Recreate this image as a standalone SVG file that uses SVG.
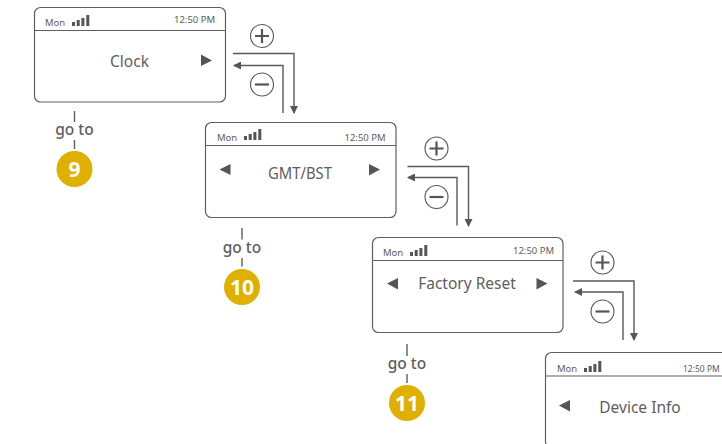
<svg xmlns="http://www.w3.org/2000/svg" width="722" height="444" viewBox="0 0 722 444">
<style>
text{font-family:"Noto Sans","Open Sans","Liberation Sans",sans-serif;fill:#5e5e5e}
.scr{fill:#fff;stroke:#5f5f5f;stroke-width:1.2}
.div{stroke:#5f5f5f;stroke-width:1.2;fill:none}
.sm{font-size:9.5px}
.t{font-size:15.5px;text-anchor:middle}
.goto{font-size:15.500px;font-weight:500;text-anchor:middle}
.num{font-size:21px;font-weight:700;fill:#fff;text-anchor:middle}
.tick{stroke:#5f5f5f;stroke-width:1.4;fill:none}
.conn{stroke:#5a5a5a;stroke-width:1.4;fill:none}
.op{fill:#fff;stroke:#555;stroke-width:1.1}
.sym{stroke:#555;stroke-width:2.2;fill:none}
.tri{fill:#555}
.bar{fill:#555}
</style>
<defs>
<marker id="arr" viewBox="0 0 8 8" refX="7" refY="4" markerWidth="8" markerHeight="8" markerUnits="userSpaceOnUse" orient="auto"><path d="M0 0L8 4L0 8Z" fill="#555"/></marker>
<g id="sig"><rect class="bar" x="0" y="7" width="3" height="4"/><rect class="bar" x="4.700" y="5" width="3" height="6"/><rect class="bar" x="9.400" y="3" width="3" height="8"/><rect class="bar" x="14.300" y="0" width="3" height="11"/></g>
</defs>
<g id="connectors">
<path class="conn" marker-end="url(#arr)" d="M233 53.500H294V113"/>
<path class="conn" marker-end="url(#arr)" d="M283 113V65.500H234"/>
<path class="conn" marker-end="url(#arr)" d="M407.500 166.500H468.500V226"/>
<path class="conn" marker-end="url(#arr)" d="M457 225.500V177.500H408"/>
<path class="conn" marker-end="url(#arr)" d="M573 281H634V340"/>
<path class="conn" marker-end="url(#arr)" d="M623 340V292H575"/>
<path class="tick" d="M74.500 111V122M74.500 140V149"/>
<path class="tick" d="M242 228V239.500M242 258V266.500"/>
<path class="tick" d="M407 344V356M407 374V383"/>
</g>
<g id="screen-clock">
<rect class="scr" x="34.500" y="7.500" width="191" height="94.500" rx="6"/>
<path class="div" d="M35 30.500H225"/>
<text class="sm" x="45" y="25.500">Mon</text>
<use href="#sig" x="72" y="15"/>
<text class="sm" x="174" y="22.500">12:50 PM</text>
<text class="t" x="129.500" y="66.500">Clock</text>
<path class="tri" d="M201 54.500V66L212 60.500Z"/>
</g>
<g id="screen-gmt">
<rect class="scr" x="205.500" y="122.500" width="190.500" height="95" rx="6"/>
<path class="div" d="M206 145.500H396"/>
<text class="sm" x="217" y="140.500">Mon</text>
<use href="#sig" x="244" y="129"/>
<text class="sm" x="344.500" y="140.500">12:50 PM</text>
<text class="t" x="300" y="179" style="font-size:15.800px" textLength="64" lengthAdjust="spacingAndGlyphs">GMT/BST</text>
<path class="tri" d="M230.500 164V175L219.500 169.500Z"/>
<path class="tri" d="M369 164V175.500L380 169.500Z"/>
</g>
<g id="screen-reset">
<rect class="scr" x="372.500" y="237.500" width="190.500" height="95" rx="6"/>
<path class="div" d="M373 260.500H563"/>
<text class="sm" x="383" y="256">Mon</text>
<use href="#sig" x="410" y="245"/>
<text class="sm" x="513" y="254">12:50 PM</text>
<text class="t" x="467" y="289">Factory Reset</text>
<path class="tri" d="M398 278V289.500L387 283.500Z"/>
<path class="tri" d="M536.500 278V289.500L547.500 283.500Z"/>
</g>
<g id="screen-device">
<rect class="scr" x="545.500" y="352.500" width="190" height="95" rx="6"/>
<path class="div" d="M546 376H722"/>
<text class="sm" x="557" y="371.500">Mon</text>
<use href="#sig" x="584" y="361"/>
<text class="sm" x="683" y="371.500" style="font-size:8.500px">12:50 PM</text>
<text class="t" x="640" y="412.500">Device Info</text>
<path class="tri" d="M570 400V411.500L559 405.500Z"/>
</g>
<g id="plus-1"><circle class="op" cx="262" cy="36" r="11.500"/><path class="sym" d="M255 36H269M262 29V43"/></g>
<g id="minus-1"><circle class="op" cx="262" cy="84.500" r="11.500"/><path class="sym" d="M255 84.500H269"/></g>
<g id="plus-2"><circle class="op" cx="436.500" cy="148.500" r="11.500"/><path class="sym" d="M429.500 148.500H443.500M436.500 141.500V155.500"/></g>
<g id="minus-2"><circle class="op" cx="436.500" cy="197" r="11.500"/><path class="sym" d="M429.500 197H443.500"/></g>
<g id="plus-3"><circle class="op" cx="602.500" cy="262.500" r="11.500"/><path class="sym" d="M595.500 262.500H609.500M602.500 255.500V269.500"/></g>
<g id="minus-3"><circle class="op" cx="602.500" cy="311.500" r="11.500"/><path class="sym" d="M595.500 311.500H609.500"/></g>
<g id="goto-9"><text class="goto" x="74.500" y="135">go to</text><circle cx="74.500" cy="169" r="18" fill="#e0b000"/><text class="num" x="74.500" y="176.500">9</text></g>
<g id="goto-10"><text class="goto" x="242" y="253">go to</text><circle cx="242" cy="287" r="18" fill="#e0b000"/><text class="num" x="242" y="294.500">10</text></g>
<g id="goto-11"><text class="goto" x="407" y="369">go to</text><circle cx="407" cy="403" r="18" fill="#e0b000"/><text class="num" x="407" y="410.500">11</text></g>
</svg>
